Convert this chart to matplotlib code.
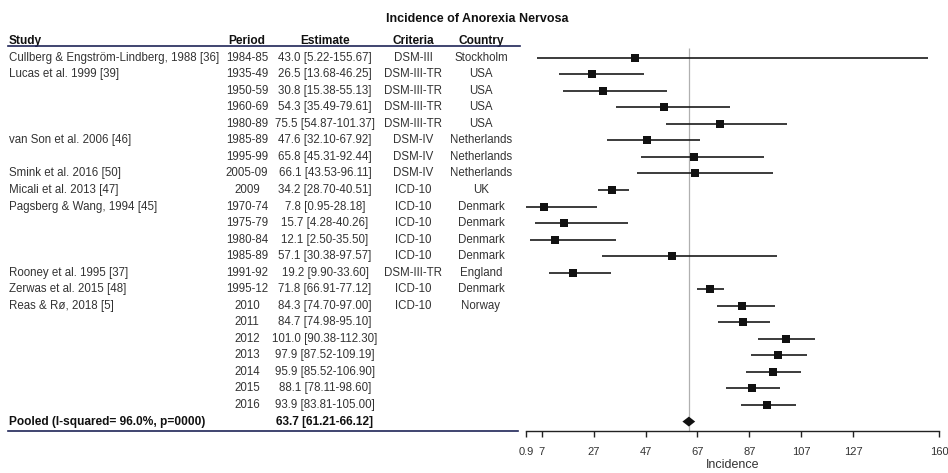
import matplotlib.pyplot as plt
import matplotlib.transforms as mtransforms

plt.rcParams['font.family'] = ['Liberation Sans', 'DejaVu Sans']

studies = ["Cullberg & Engström-Lindberg, 1988 [36]", "Lucas et al. 1999 [39]", "", "", "",
           "van Son et al. 2006 [46]", "", "Smink et al. 2016 [50]", "Micali et al. 2013 [47]",
           "Pagsberg & Wang, 1994 [45]", "", "", "", "Rooney et al. 1995 [37]",
           "Zerwas et al. 2015 [48]", "Reas & Rø, 2018 [5]", "", "", "", "", "", ""]
periods = ["1984-85", "1935-49", "1950-59", "1960-69", "1980-89", "1985-89", "1995-99",
           "2005-09", "2009", "1970-74", "1975-79", "1980-84", "1985-89", "1991-92",
           "1995-12", "2010", "2011", "2012", "2013", "2014", "2015", "2016"]
est = [43.0, 26.5, 30.8, 54.3, 75.5, 47.6, 65.8, 66.1, 34.2, 7.8, 15.7, 12.1, 57.1, 19.2,
       71.8, 84.3, 84.7, 101.0, 97.9, 95.9, 88.1, 93.9]
lo = [5.22, 13.68, 15.38, 35.49, 54.87, 32.10, 45.31, 43.53, 28.70, 0.95, 4.28, 2.50, 30.38,
      9.90, 66.91, 74.70, 74.98, 90.38, 87.52, 85.52, 78.11, 83.81]
hi = [155.67, 46.25, 55.13, 79.61, 101.37, 67.92, 92.44, 96.11, 40.51, 28.18, 40.26, 35.50,
      97.57, 33.60, 77.12, 97.00, 95.10, 112.30, 109.19, 106.90, 98.60, 105.00]
criteria = ["DSM-III", "DSM-III-TR", "DSM-III-TR", "DSM-III-TR", "DSM-III-TR", "DSM-IV",
            "DSM-IV", "DSM-IV", "ICD-10", "ICD-10", "ICD-10", "ICD-10", "ICD-10",
            "DSM-III-TR", "ICD-10", "ICD-10", "", "", "", "", "", ""]
country = ["Stockholm", "USA", "USA", "USA", "USA", "Netherlands", "Netherlands",
           "Netherlands", "UK", "Denmark", "Denmark", "Denmark", "Denmark", "England",
           "Denmark", "Norway", "", "", "", "", "", ""]
pooled = (63.7, 61.21, 66.12)
pooled_label = "Pooled (I-squared= 96.0%, p=0000)"
xticks = [0.9, 7, 27, 47, 67, 87, 107, 127, 160]

W, H = 948, 473
fig = plt.figure(figsize=(W / 100, H / 100), dpi=100)

# forest panel, placed in pixel terms
x0, x1 = 525.8, 939
y_top, y_bot = 30, 430.7
row0, step = 57.7, 16.54
ax = fig.add_axes([x0 / W, 1 - y_bot / H, (x1 - x0) / W, (y_bot - y_top) / H])
ax.set_xlim(0.9, 160)
ax.set_ylim((y_bot - row0) / step, (y_top - row0) / step)

n = len(est)
rows = list(range(n))
ax.hlines(rows, lo, hi, color='#1a1a1a', lw=1.2, zorder=2)
ax.plot(est, rows, 's', color='#111111', ms=5.8, mew=0, ls='none', zorder=3)

# pooled diamond and reference line
pe, pl, ph = pooled
ax.vlines(pe, -0.6, (y_bot - row0) / step, color='#b0b0b0', lw=0.9, zorder=1)
ax.fill([pl, pe, ph, pe], [n, n - 0.3, n, n + 0.3], color='#111111', lw=0, zorder=3)

for s in ['top', 'right', 'left']:
    ax.spines[s].set_visible(False)
ax.spines['bottom'].set_color('#222222')
ax.spines['bottom'].set_linewidth(1.0)
ax.set_yticks([])
ax.set_xticks(xticks)
ax.set_xticklabels([str(t) for t in xticks], fontsize=8, color='#333333')
ax.tick_params(axis='x', direction='out', length=4, width=1.0, pad=8, color='#222222')
ax.set_xlabel('Incidence', fontsize=9, color='#333333', labelpad=1)

# left-hand table
tr = mtransforms.blended_transform_factory(fig.transFigure, ax.transData)
cols = [(9, 'left'), (247, 'center'), (325, 'center'), (413, 'center'), (481, 'center')]
headers = ['Study', 'Period', 'Estimate', 'Criteria', 'Country']
for (cx, ha), h in zip(cols, headers):
    ax.text(cx / W, -1.0, h, transform=tr, ha=ha, va='center', fontsize=8.6,
            fontweight='bold', color='#111111', clip_on=False)

for i in rows:
    vals = [studies[i], periods[i], f"{est[i]:.1f} [{lo[i]:.2f}-{hi[i]:.2f}]",
            criteria[i], country[i]]
    for (cx, ha), v in zip(cols, vals):
        ax.text(cx / W, i, v, transform=tr, ha=ha, va='center', fontsize=8.3,
                color='#333333', clip_on=False)

ax.text(9 / W, n, pooled_label, transform=tr, ha='left', va='center', fontsize=8.6,
        fontweight='bold', color='#111111', clip_on=False)
ax.text(325 / W, n, f"{pe:.1f} [{pl:.2f}-{ph:.2f}]", transform=tr, ha='center',
        va='center', fontsize=8.6, fontweight='bold', color='#111111', clip_on=False)

# header and footer rules
line_col = '#1f2557'
fig.add_artist(plt.Line2D([8 / W, 520 / W], [1 - 46 / H, 1 - 46 / H], color=line_col, lw=1.2))
fig.add_artist(plt.Line2D([8 / W, 518 / W], [1 - 430.5 / H, 1 - 430.5 / H], color=line_col, lw=1.2))

fig.text(477 / W, 1 - 19 / H, 'Incidence of Anorexia Nervosa', ha='center', va='center',
         fontsize=9, fontweight='bold', color='#111111')

fig.savefig('out.png', dpi=100)
